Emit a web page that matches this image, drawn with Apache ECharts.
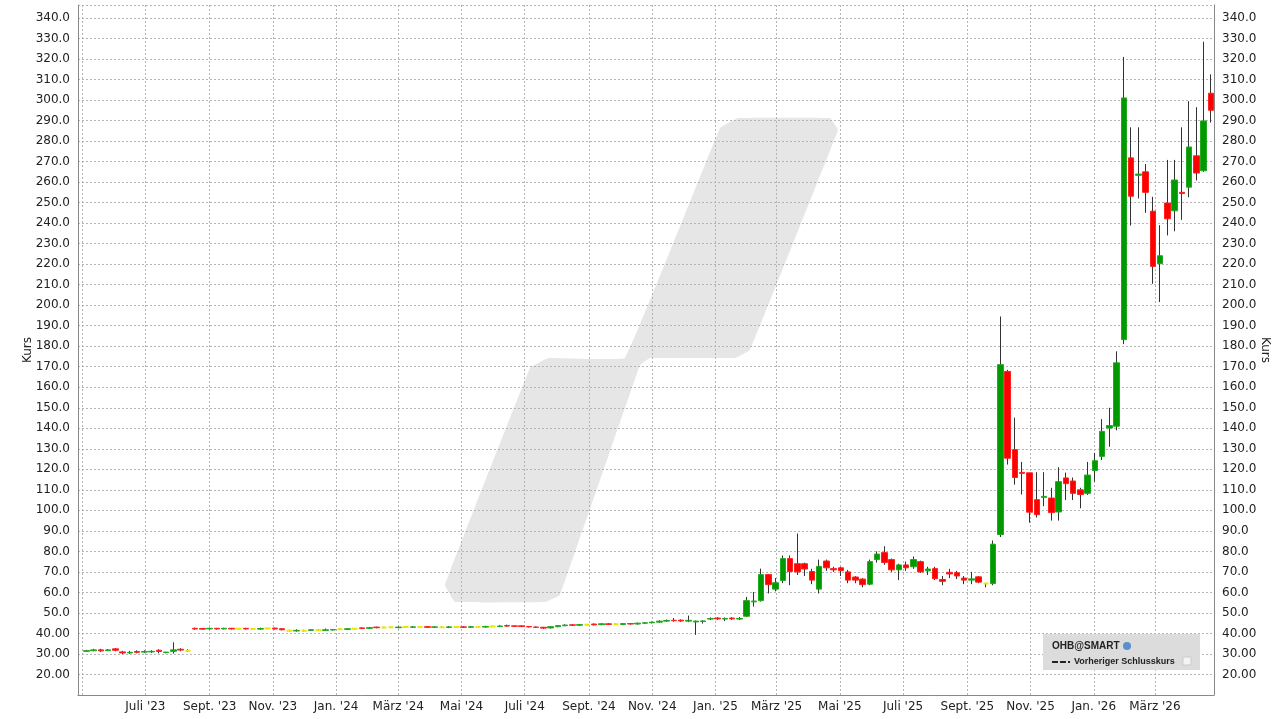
<!DOCTYPE html>
<html><head><meta charset="utf-8">
<script src="https://cdn.jsdelivr.net/npm/echarts@6/dist/echarts.min.js"></script>
<style>html,body{margin:0;padding:0;background:#fff;overflow:hidden}#c{width:1280px;height:719px}</style>
</head><body><div id="c"></div>
<script>
// Weekly candles [open, close, low, high]
const candlesA = [ // weekly from 2023-05-05
[31.3,31.6,31,32],[31.6,32,31.3,32.5],[32,31.5,31,32.5],[31.6,32,31.4,32.4],[32.5,31.8,31.3,32.8],
[31,30.5,30,31.5],[30.5,30.8,30,31.5],[31.2,30.8,30.3,31.8],[30.9,31.2,30.5,31.8],[31,31.3,30.5,31.8],
[31.8,31.2,30.3,32.3],[30.7,30.9,30.3,31],[31.3,32,30.2,35.7],[32.3,31.9,31.3,32.8],[31.6,31.6,31,32.3]];
const candlesB = [ // weekly from 2023-08-18
[42.5,42.2,41.8,42.8],[42.4,42.1,41.8,42.6],[42.2,42.5,41.9,42.8],[42.5,42.2,41.9,42.7],[42.2,42.5,42,42.8],
[42.5,42.2,41.9,42.7],[42.3,42.3,42,42.6],[42.5,42.2,41.9,42.7],[42.2,42.2,41.9,42.5],[42.1,42.4,41.9,42.8],
[42.4,42.4,42.1,42.7],[42.6,42.2,41.9,42.8],[42.3,41.8,41.5,42.5],[41.3,41.3,41,41.8],[41.2,41.5,40.9,42],
[41.3,41.3,41,41.8],[41.5,41.8,41.2,42.1],[41.6,41.6,41.3,42],[41.5,41.8,41.2,42.4],[41.7,41.9,41.4,42.2],
[42.1,42.1,41.8,42.4],[42,42.3,41.8,42.6],[42.3,42.3,42,42.6],[42.7,42.4,42.1,42.9],[42.5,42.8,42.2,43.1],
[43.1,42.8,42.5,43.3],[42.9,42.9,42.6,43.2],[43,43,42.7,43.3],[42.8,43.1,42.5,43.4],[43.1,43.1,42.8,43.4],
[43,43.2,42.7,43.5],[43.2,43.2,42.9,43.5],[43.3,43,42.7,43.5],[43,43.2,42.8,43.5],[43,43,42.7,43.3],
[42.9,43.2,42.6,43.5],[43.1,43.1,42.8,43.4],[43.2,43,42.7,43.5],[43,43.3,42.8,43.6],[43.2,43.2,43,43.5],
[43.1,43.4,42.9,43.7],[43.4,43.4,43.1,43.7],[43.4,43.6,43.1,44],[43.8,43.6,43.3,44.3],[43.7,43.5,43.2,43.9],
[43.7,43.4,43.1,43.9],[43.4,43.2,42.9,43.6],[43.1,43,42.7,43.4],[43,42.6,42.2,43.2],[42.7,43.3,42.4,43.6],
[43.3,43.8,43,44.1],[43.8,44.1,43.5,44.4],[44.2,44,43.7,44.5],[44,44.3,43.7,44.6],[44.3,44.3,44,44.6],
[44.6,44.2,43.9,44.8],[44.3,44.7,44,45],[44.7,44.4,44.1,45],[44.5,44.5,44.2,44.8],[44.4,44.8,44.1,45.1],
[44.8,44.6,44.3,45],[44.6,45,44.3,45.3],[45,45.2,44.7,45.5],
[45.2,45.5,44.9,45.8],[45.5,46,45.2,46.4],[46,46.3,45.6,46.8],[46.4,46.2,45.8,47.5],
[46.5,46.1,45.7,46.8],[46,46.4,45.5,48.7],[45.6,46,39.3,46.3],[45.8,46.1,44.8,46.5],[47,47.3,46.5,47.8],
[47.5,47.1,46.6,47.9],[47,47.3,46,47.8],[47.5,47.1,46.6,47.9],[47,47.3,46.5,48],[48.4,56,48,57.8],
[55.4,55.8,53.1,60.2],[56,68.7,55.5,71.6],[68.7,63.8,59.5,69],[61.6,64.7,60.5,67],[65.8,76.5,64.5,78],
[76.5,70.2,63.5,78],[74,70,68.5,88.7],[74,71.4,68,74.5],[70.2,66,64,71.5],[61.6,72.7,59.5,76],
[75.3,72,70.5,76],[71.6,71,70,72.5],[72,70.6,68,72.5],[70,66,64.5,71],[67.5,66,64.5,68],
[66.5,63.8,62.5,67],[64,75,63.5,76],[76,78.7,74.5,80],[79.4,74.6,73.5,82.5],[76,71,70,76.5],
[71,73.4,66,74],[73.4,72,70.5,75],[72.5,76,71.5,77.5],[75,70,69.5,75.5],[70.5,71.4,68.5,72.5],
[71.6,66.7,66,72.5],[66.3,65.4,63.5,68],[69.8,69,67,71.5],[69.6,68,66.5,70.5],[67,66,64,68],
[66,66.6,64,70],[67.6,65,64.5,68],[64.3,64.3,62.5,64.5],[64.3,83.5,63.5,85.3],
[88.2,171,87,194.5],[167.7,125.4,122.3,168.5],[129.6,116,112.5,145.2],[118.5,118,107.7,123.6],[118.3,99.1,94,118.3],
[105.2,97.9,96.5,118.6],[106.3,106.8,102,118.6],[106,98.9,95,111],[99.2,114,95,121],[115.8,113,105,118.4],
[114.3,108.3,105,116],[110,107.7,101,111],[108.3,117.2,107.5,123.6],[119.4,124.2,114,128],[126.3,138.5,124.5,144.5],
[140.1,141.3,131,150],[141,171.9,139,177.5],[183.2,301,181,321],[271.8,253.1,238.8,286.7],[263.3,263.9,252,286.7],
[265,255,245,268.8],[245.8,218.9,210.4,252.8],[220.2,224.1,201.5,239],[249.8,242.1,234,270.8],[246,261,236,270.8],
[255,254.4,241.6,286.7],[257.5,277.1,252.6,299.4],[272.8,264.4,260.8,296.5],[265.5,289.8,265,328.4],[303.3,295,289,312.5]];
const startA = '2023-05-05', startB = '2023-08-18';
const axisStart = '2023-04-27', axisEnd = '2026-04-27';
const monthNames = {1:"Jan.",3:"März",5:"Mai",7:"Juli",9:"Sept.",11:"Nov."};
const axisTitle = 'Kurs';

const DAY = 86400000;
const fmt = t => new Date(t).toISOString().slice(0,10);
const days = [];
for (let t = Date.parse(axisStart+'T00:00:00Z'); t <= Date.parse(axisEnd+'T00:00:00Z'); t += DAY) days.push(fmt(t));
function weekly(start, arr){ const s=Date.parse(start+'T00:00:00Z'); return arr.map((c,i)=>[fmt(s+i*7*DAY)].concat(c)); }
const all = weekly(startA, candlesA).concat(weekly(startB, candlesB));
const wicks = all.map(d=>[d[0], d[3], d[4], d[3], d[4]]);
const bodies = all.map(d=>{
  const item = {value:[d[0], d[1], d[2], Math.min(d[1],d[2]), Math.max(d[1],d[2])]};
  if (d[1]===d[2]) item.itemStyle = {color:'#f0f000', borderColor:'#e8e800', color0:'#f0f000', borderColor0:'#e8e800', borderWidth:2};
  return item;
});
const isMark = v => { const d = new Date(v+'T00:00:00Z'); return d.getUTCDate()===1 && d.getUTCMonth()%2===0; };
const yLabel = v => (v<20||v>340) ? '' : (v>=50 ? v.toFixed(1) : v.toFixed(2));

const chart = echarts.init(document.getElementById('c'));
const gridLine = {show:true, lineStyle:{color:'#b4b4b4', type:[2,2], width:1}};
const yCommon = {type:'value', min:10, max:346.3, interval:10,
  axisLine:{show:true, lineStyle:{color:'#888'}}, axisTick:{show:false},
  axisLabel:{formatter:yLabel, fontFamily:'DejaVu Sans', fontSize:12, color:'#222', showMaxLabel:false}};
chart.setOption({
  animation:false,
  grid:{left:78, right:66, top:5, bottom:24, containLabel:false, outerBoundsMode:'none'},
  graphic:[
    {type:'polygon', z:-10, shape:{points:[[445,585],[530,368],[548,358],[625,358],[720,128],[738,118],[830,118],[838,130],[750,350],[735,358],[650,358],[640,365],[560,595],[545,602],[455,602]], smooth:0.05}, style:{fill:'#e6e6e6'}},
    {type:'text', x:28, y:350, rotation:Math.PI/2, style:{text:axisTitle, font:'12px "DejaVu Sans"', fill:'#222', align:'center', verticalAlign:'middle'}},
    {type:'text', x:1265, y:350, rotation:-Math.PI/2, style:{text:axisTitle, font:'12px "DejaVu Sans"', fill:'#222', align:'center', verticalAlign:'middle'}},
    {type:'rect', shape:{x:1043,y:634,width:157,height:36}, style:{fill:'#dcdcdc'}, z:100},
    {type:'text', x:1052, y:641, style:{text:'OHB@SMART', font:'bold 10px "Liberation Sans"', fill:'#222'}, z:101},
    {type:'circle', shape:{cx:1127,cy:646,r:4}, style:{fill:'#5b8fc9'}, z:101},
    {type:'line', shape:{x1:1052,y1:662,x2:1070,y2:662}, style:{stroke:'#222', lineWidth:2, lineDash:[6,2]}, z:101},
    {type:'text', x:1074, y:657, style:{text:'Vorheriger Schlusskurs', font:'bold 9px "Liberation Sans"', fill:'#222'}, z:101},
    {type:'rect', shape:{x:1183,y:657,width:8,height:8}, style:{fill:'#f4f4f4', stroke:'#ccc'}, z:101}
  ],
  xAxis:{type:'category', data:days, boundaryGap:false,
    axisLine:{show:true, lineStyle:{color:'#888'}}, axisTick:{show:false},
    splitLine:Object.assign({interval:(i,v)=>isMark(v)}, gridLine),
    axisLabel:{interval:(i,v)=>isMark(v) && v>'2023-06-01', hideOverlap:false, fontFamily:'DejaVu Sans', fontSize:12, color:'#222', margin:6,
      formatter:v=>{const d=new Date(v+'T00:00:00Z'); return monthNames[d.getUTCMonth()+1]+" '"+String(d.getUTCFullYear()).slice(2);}}},
  yAxis:[Object.assign({position:'left', splitLine:gridLine}, yCommon),
         Object.assign({position:'right', splitLine:{show:false}}, yCommon)],
  series:[
    {type:'candlestick', data:wicks, encode:{x:0,y:[1,2,3,4]}, barWidth:1,
      itemStyle:{color:'#333', color0:'#333', borderColor:'#333', borderColor0:'#333', borderWidth:1}},
    {type:'candlestick', data:bodies, encode:{x:0,y:[1,2,3,4]}, barWidth:6,
      itemStyle:{color:'#009900', color0:'#ff0000', borderColor:'#22a822', borderColor0:'#ff2020', borderWidth:1}}
  ]
});
</script></body></html>
